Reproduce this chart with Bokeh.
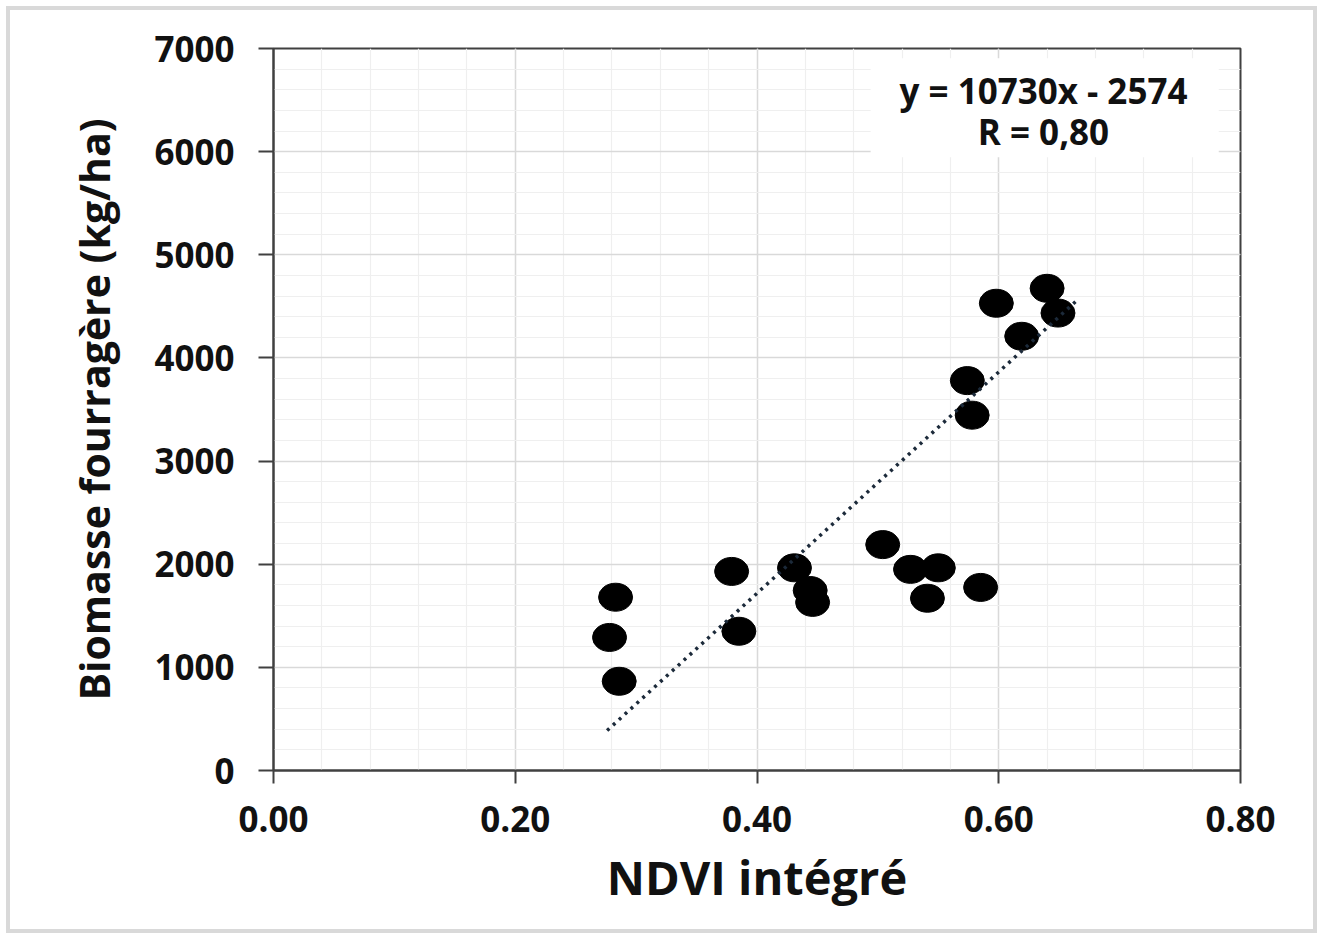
from bokeh.plotting import figure
from bokeh.models import Range1d, FixedTicker, BoxAnnotation, Label, ColumnDataSource
from bokeh.embed import file_html
from bokeh.resources import INLINE

# Data
ndvi = [0.283, 0.278, 0.286, 0.379, 0.385, 0.431, 0.444, 0.446, 0.504, 0.527,
        0.550, 0.541, 0.585, 0.598, 0.640, 0.649, 0.619, 0.574, 0.578]
biomass = [1680, 1290, 865, 1930, 1350, 1965, 1745, 1630, 2190, 1950,
           1965, 1670, 1775, 4530, 4675, 4435, 4210, 3780, 3445]
slope = 10730
intercept = -2574
trend_x = [0.276, 0.665]
trend_y = [slope * v + intercept for v in trend_x]

x_ticks = [0.0, 0.2, 0.4, 0.6, 0.8]
x_tick_labels = ["0.00", "0.20", "0.40", "0.60", "0.80"]
x_minor = [round(i * 0.04, 2) for i in range(21)]
y_ticks = [0, 1000, 2000, 3000, 4000, 5000, 6000, 7000]
y_minor = [i * 200 for i in range(36)]
eq_text = "y = 10730x - 2574"
r_text = "R = 0,80"
x_title = "NDVI intégré"
y_title = "Biomasse fourragère (kg/ha)"

FONT = "Open Sans"
AX = "#404040"

p = figure(width=1311, height=927, output_backend="svg", toolbar_location=None,
           x_range=Range1d(0, 0.8), y_range=Range1d(0, 7000),
           min_border_left=263, min_border_right=81, min_border_top=38, min_border_bottom=167,
           styles={"border": "4px solid #d9d9d9", "margin-left": "6px", "margin-top": "6px"})
p.background_fill_color = "white"
p.border_fill_color = "white"
p.outline_line_color = AX
p.outline_line_width = 2

p.xaxis.ticker = FixedTicker(ticks=x_ticks, minor_ticks=x_minor)
p.yaxis.ticker = FixedTicker(ticks=y_ticks, minor_ticks=y_minor)
p.xaxis.major_label_overrides = {t: l for t, l in zip(x_ticks, x_tick_labels)}
p.xgrid.ticker = FixedTicker(ticks=x_ticks, minor_ticks=x_minor)
p.ygrid.ticker = FixedTicker(ticks=y_ticks, minor_ticks=y_minor)
for g in (p.xgrid, p.ygrid):
    g.grid_line_color = "#d9d9d9"
    g.grid_line_width = 1.5
    g.minor_grid_line_color = "#efefef"
    g.minor_grid_line_width = 1.2

for ax in (p.xaxis, p.yaxis):
    ax.axis_line_color = AX
    ax.axis_line_width = 2
    ax.major_tick_line_color = AX
    ax.major_tick_line_width = 2
    ax.major_tick_in = 0
    ax.minor_tick_line_color = None
    ax.major_label_text_font = FONT
    ax.major_label_text_font_style = "bold"
    ax.major_label_text_font_size = "35px"
    ax.major_label_text_color = "#111111"
    ax.axis_label_text_font = FONT
    ax.axis_label_text_font_style = "bold"
    ax.axis_label_text_color = "#111111"

p.xaxis.major_tick_out = 13
p.yaxis.major_tick_out = 15
p.xaxis.major_label_standoff = 22
p.yaxis.major_label_standoff = 24
p.xaxis.axis_label = x_title
p.yaxis.axis_label = y_title
p.xaxis.axis_label_text_font_size = "47px"
p.yaxis.axis_label_text_font_size = "41px"
p.xaxis.axis_label_standoff = 10
p.yaxis.axis_label_standoff = 29

src = ColumnDataSource(data=dict(x=ndvi, y=biomass))
p.ellipse("x", "y", width=34, height=28, width_units="screen", height_units="screen",
          source=src, fill_color="black", line_color="black")

p.line(trend_x, trend_y, line_color="#1c2a3a", line_width=3.5, line_dash="3 5")

p.add_layout(BoxAnnotation(left=0.494, right=0.782, bottom=5946, top=6906,
                           fill_color="white", fill_alpha=1, line_color=None))
p.add_layout(Label(x=0.637, y=6595, text=eq_text, text_align="center", text_baseline="middle",
                   text_font=FONT, text_font_style="bold", text_font_size="35px", text_color="#111111"))
p.add_layout(Label(x=0.637, y=6198, text=r_text, text_align="center", text_baseline="middle",
                   text_font=FONT, text_font_style="bold", text_font_size="35px", text_color="#111111"))

open("out.html", "w").write(file_html(p, INLINE))
